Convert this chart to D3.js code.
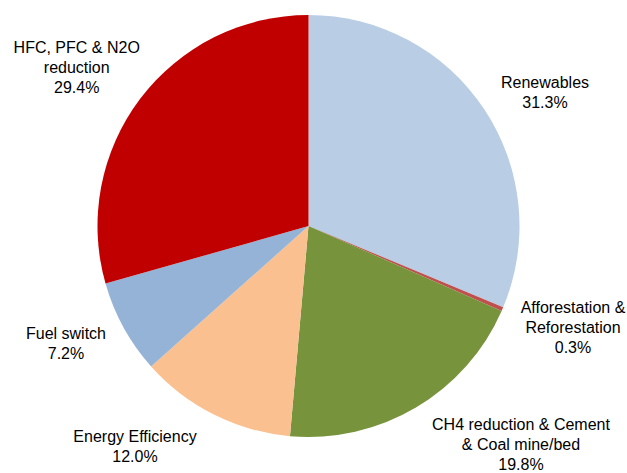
<!DOCTYPE html>
<html>
<head>
<meta charset="utf-8">
<script src="https://cdn.jsdelivr.net/npm/d3@7"></script>
<style>
  html, body { margin: 0; padding: 0; background: #fff; }
  svg { display: block; }
</style>
</head>
<body>
<svg id="chart" width="627" height="473"></svg>
<script>
// Emission-reduction shares by project type
const categories = [
  "Renewables",
  "Afforestation & Reforestation",
  "CH4 reduction & Cement & Coal mine/bed",
  "Energy Efficiency",
  "Fuel switch",
  "HFC, PFC & N2O reduction"
];
const shares = [31.3, 0.3, 19.8, 12.0, 7.2, 29.4];
const labelLines = [
  ["Renewables"],
  ["Afforestation &", "Reforestation"],
  ["CH4 reduction & Cement", "& Coal mine/bed"],
  ["Energy Efficiency"],
  ["Fuel switch"],
  ["HFC, PFC & N2O", "reduction"]
];

// Styling and layout
const sliceColors = ["#B9CDE5", "#C0504D", "#77933C", "#FAC090", "#95B3D7", "#C00000"];
const cx = 308.5, cy = 226, radius = 211;
// label block anchor (first baseline, centered) relative to pie centre
const labelOffsets = [
  [236.5, -138], [264.5, 87], [212.5, 204],
  [-173.5, 215.5], [-242.5, 113], [-231.8, -172.7]
];
const lineHeight = 20;

const data = categories.map((c, i) => ({ name: c, value: shares[i], lines: labelLines[i], idx: i }));

const svg = d3.select("#chart");
const g = svg.append("g").attr("transform", `translate(${cx},${cy})`);

const pie = d3.pie().sort(null).value(d => d.value);
const arc = d3.arc().innerRadius(0).outerRadius(radius);

g.selectAll("path.slice")
  .data(pie(data))
  .join("path")
  .attr("class", "slice")
  .attr("d", arc)
  .attr("fill", d => sliceColors[d.data.idx]);

const fmt = d3.format(".1f");
const labels = g.selectAll("text.label")
  .data(data)
  .join("text")
  .attr("class", "label")
  .attr("text-anchor", "middle")
  .attr("font-family", "'Liberation Sans', Arial, sans-serif")
  .attr("font-size", 16)
  .attr("fill", "#000");

labels.each(function(d) {
  const t = d3.select(this);
  const [ox, oy] = labelOffsets[d.idx];
  const lines = d.lines.concat([fmt(d.value) + "%"]);
  lines.forEach((ln, k) => {
    t.append("tspan")
      .attr("x", ox)
      .attr("y", oy + k * lineHeight)
      .text(ln);
  });
});
</script>
</body>
</html>
